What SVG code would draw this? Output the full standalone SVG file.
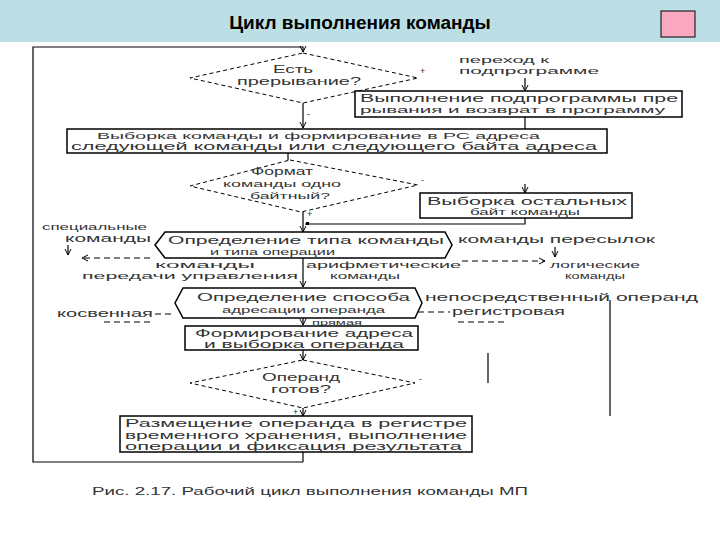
<svg xmlns="http://www.w3.org/2000/svg" width="720" height="540" viewBox="0 0 720 540">
<defs>
<marker id="ah" markerWidth="8" markerHeight="8" refX="7" refY="4" orient="auto" markerUnits="userSpaceOnUse">
<path d="M1,1 L7,4 L1,7" fill="none" stroke="#000" stroke-width="1"/>
</marker>
<style>
.t{font-family:"Liberation Sans",Arial,sans-serif;fill:#333;font-size:9px}
.b{font-size:10px}
.ln{stroke:#000;stroke-width:1.2;fill:none}
.bx{stroke:#000;stroke-width:1.5;fill:#fff}
.dg{stroke:#000;stroke-width:1;stroke-dasharray:4 3;fill:#fff}
.da{stroke:#000;stroke-width:1;stroke-dasharray:6 4;fill:none}
</style>
</defs>
<rect x="0" y="0" width="720" height="540" fill="#fff"/>
<rect x="0" y="0" width="720" height="42" fill="#bcdfe5"/>
<text x="360" y="29" text-anchor="middle" style="font-family:'Liberation Sans',Arial,sans-serif;font-weight:bold;font-size:19px;fill:#000">Цикл выполнения команды</text>
<rect x="661" y="11" width="34" height="26" fill="#f9a8c0" stroke="#000" stroke-width="1"/>

<g id="connectors">
<path class="ln" d="M303,462 L33,462 L33,47 L303,47 L303,52" marker-end="url(#ah)"/>
<path class="ln" d="M303,103 L303,128" marker-end="url(#ah)"/>
<path class="ln" d="M525,78 L525,91" marker-end="url(#ah)"/>
<path class="ln" d="M525,117 L525,129"/>
<path class="ln" d="M288,153 L288,160"/>
<path class="ln" d="M525,184 L525,193" marker-end="url(#ah)"/>
<path class="ln" d="M525,218 L525,224 L305,224"/>
<path class="ln" d="M303,212 L303,232" marker-end="url(#ah)"/>
<path class="ln" d="M303,258 L303,287" marker-end="url(#ah)"/>
<path class="ln" d="M68,245 L68,255" marker-end="url(#ah)"/>
<path class="ln" d="M555,247 L555,257" marker-end="url(#ah)"/>
<path class="da" d="M462,261 L545,261" marker-end="url(#ah)"/>
<path class="da" d="M150,258 L82,258" marker-end="url(#ah)"/>
<path class="ln" d="M303,318 L303,325" marker-end="url(#ah)"/>
<path class="da" d="M155,314 L175,314"/>
<path class="da" d="M150,322 L100,322"/>
<path class="da" d="M418,312 L450,312"/>
<path class="da" d="M458,322 L505,322"/>
<path class="ln" d="M610,300 L610,416"/>
<path class="ln" d="M488,353 L488,383"/>
<path class="ln" d="M303,349 L303,360" marker-end="url(#ah)"/>
<path class="ln" d="M303,408 L303,416" marker-end="url(#ah)"/>
<path class="ln" d="M303,452 L303,462"/>
<rect x="306" y="222" width="3" height="3" fill="#000"/>
</g>

<g id="n-interrupt">
<polygon class="dg" points="303,53 418,78 303,103 190,78"/>
<text class="t b" x="293" y="73" text-anchor="middle" textLength="40" lengthAdjust="spacingAndGlyphs">Есть</text>
<text class="t b" x="299" y="85" text-anchor="middle" textLength="124" lengthAdjust="spacingAndGlyphs">прерывание?</text>
<text class="t" x="420" y="74">+</text>
<text class="t" x="307" y="117">-</text>
</g>

<g id="n-goto-sub">
<text class="t" x="459" y="63" textLength="90" lengthAdjust="spacingAndGlyphs">переход к</text>
<text class="t" x="459" y="74" textLength="140" lengthAdjust="spacingAndGlyphs">подпрограмме</text>
</g>

<g id="n-sub">
<rect class="bx" x="355" y="91" width="327" height="26"/>
<text class="t b" x="360" y="102" textLength="318" lengthAdjust="spacingAndGlyphs">Выполнение подпрограммы пре</text>
<text class="t" x="360" y="113" textLength="305" lengthAdjust="spacingAndGlyphs">рывания и возврат в программу</text>
</g>

<g id="n-fetch">
<rect class="bx" x="67" y="129" width="540" height="24"/>
<text class="t" x="97" y="139" textLength="443" lengthAdjust="spacingAndGlyphs">Выборка команды и формирование в РС адреса</text>
<text class="t b" x="71" y="150" textLength="526" lengthAdjust="spacingAndGlyphs">следующей команды или следующего байта адреса</text>
</g>

<g id="n-format">
<polygon class="dg" points="290,160 418,185 301,212 190,186"/>
<text class="t b" x="282" y="175" text-anchor="middle" textLength="62" lengthAdjust="spacingAndGlyphs">Формат</text>
<text class="t" x="282" y="187" text-anchor="middle" textLength="118" lengthAdjust="spacingAndGlyphs">команды одно</text>
<text class="t" x="290" y="199" text-anchor="middle" textLength="80" lengthAdjust="spacingAndGlyphs">байтный?</text>
<text class="t" x="421" y="183">-</text>
<text class="t" x="307" y="217">+</text>
</g>

<g id="n-fetch-rest">
<rect class="bx" x="420" y="193" width="212" height="25"/>
<text class="t b" x="427" y="205" textLength="200" lengthAdjust="spacingAndGlyphs">Выборка остальных</text>
<text class="t" x="470" y="215" textLength="110" lengthAdjust="spacingAndGlyphs">байт команды</text>
</g>

<g id="n-type">
<polygon class="bx" points="165,232 445,232 452,245 445,258 165,258 155,245"/>
<text class="t b" x="168" y="244" textLength="276" lengthAdjust="spacingAndGlyphs">Определение типа команды</text>
<text class="t" x="210" y="255" textLength="125" lengthAdjust="spacingAndGlyphs">и типа операции</text>
</g>

<g id="n-special">
<text class="t" x="42" y="230" textLength="105" lengthAdjust="spacingAndGlyphs">специальные</text>
<text class="t b" x="65" y="242" textLength="86" lengthAdjust="spacingAndGlyphs">команды</text>
</g>
<g id="n-transfer">
<text class="t b" x="458" y="243" textLength="197" lengthAdjust="spacingAndGlyphs">команды пересылок</text>
</g>
<g id="n-logic">
<text class="t" x="550" y="268" textLength="90" lengthAdjust="spacingAndGlyphs">логические</text>
<text class="t" x="565" y="279" textLength="60" lengthAdjust="spacingAndGlyphs">команды</text>
</g>
<g id="n-control">
<text class="t" x="155" y="268" textLength="100" lengthAdjust="spacingAndGlyphs">команды</text>
<text class="t" x="82" y="279" textLength="216" lengthAdjust="spacingAndGlyphs">передачи управления</text>
</g>
<g id="n-arith">
<text class="t" x="306" y="268" textLength="155" lengthAdjust="spacingAndGlyphs">арифметические</text>
<text class="t" x="330" y="279" textLength="70" lengthAdjust="spacingAndGlyphs">команды</text>
</g>

<g id="n-addr-mode">
<polygon class="bx" points="183,288 415,288 422,303 415,318 183,318 175,303"/>
<text class="t b" x="197" y="301" textLength="213" lengthAdjust="spacingAndGlyphs">Определение способа</text>
<text class="t" x="222" y="313" textLength="163" lengthAdjust="spacingAndGlyphs">адресации операнда</text>
</g>
<g id="n-indirect">
<text class="t b" x="57" y="317" textLength="96" lengthAdjust="spacingAndGlyphs">косвенная</text>
</g>
<g id="n-immediate">
<text class="t b" x="425" y="301" textLength="273" lengthAdjust="spacingAndGlyphs">непосредственный операнд</text>
</g>
<g id="n-register">
<text class="t b" x="452" y="315" textLength="113" lengthAdjust="spacingAndGlyphs">регистровая</text>
</g>
<g id="n-direct">
<text class="t" x="312" y="325" style="font-size:7px" textLength="50" lengthAdjust="spacingAndGlyphs">прямая</text>
</g>

<g id="n-form-addr">
<rect class="bx" x="185" y="326" width="233" height="24"/>
<text class="t b" x="195" y="337" textLength="218" lengthAdjust="spacingAndGlyphs">Формирование адреса</text>
<text class="t b" x="204" y="348" textLength="200" lengthAdjust="spacingAndGlyphs">и выборка операнда</text>
</g>

<g id="n-ready">
<polygon class="dg" points="303,360 415,383 303,408 190,383"/>
<text class="t b" x="301" y="381" text-anchor="middle" textLength="78" lengthAdjust="spacingAndGlyphs">Операнд</text>
<text class="t b" x="301" y="393" text-anchor="middle" textLength="60" lengthAdjust="spacingAndGlyphs">готов?</text>
<text class="t" x="419" y="382">-</text>
<text class="t" x="293" y="415">+</text>
</g>

<g id="n-execute">
<rect class="bx" x="120" y="416" width="352" height="36"/>
<text class="t b" x="125" y="427" textLength="342" lengthAdjust="spacingAndGlyphs">Размещение операнда в регистре</text>
<text class="t b" x="125" y="438.5" textLength="342" lengthAdjust="spacingAndGlyphs">временного хранения, выполнение</text>
<text class="t b" x="125" y="450" textLength="337" lengthAdjust="spacingAndGlyphs">операции и фиксация результата</text>
</g>

<text class="t b" x="92" y="495" textLength="436" lengthAdjust="spacingAndGlyphs">Рис. 2.17. Рабочий цикл выполнения команды МП</text>
</svg>
